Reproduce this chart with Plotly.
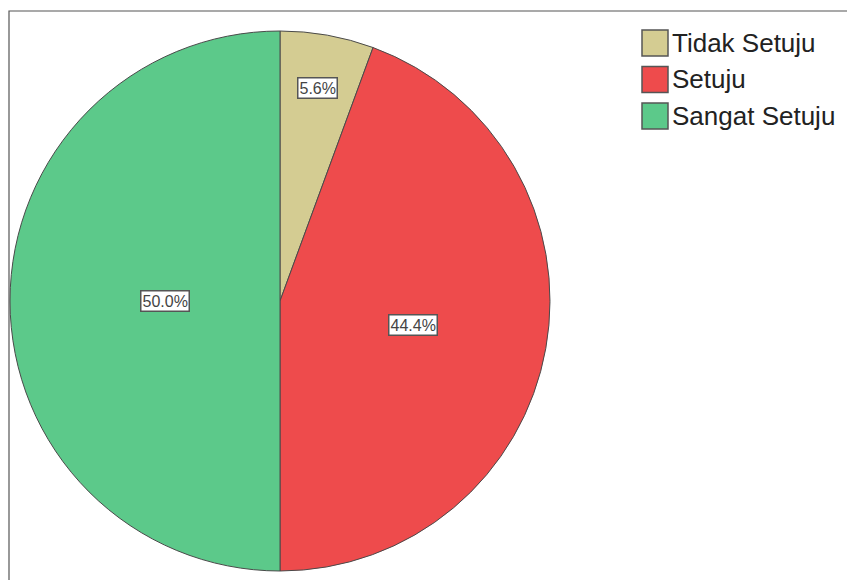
import math
import plotly.graph_objects as go

categories = ["Tidak Setuju", "Setuju", "Sangat Setuju"]
percentages = [5.6, 44.4, 50.0]
slice_colors = ["#D4CC92", "#EE4B4C", "#5CC98A"]
label_radius_frac = [0.80, 0.50, 0.426]  # style: where SPSS put each label box

W, H = 847, 580
cx, cy, R = 280, 301, 270  # pixel geometry of the pie
FONT = "Liberation Sans, Arial, sans-serif"

fig = go.Figure()
fig.add_trace(go.Pie(
    labels=categories,
    values=percentages,
    sort=False,
    direction="clockwise",
    rotation=0,
    marker=dict(colors=slice_colors, line=dict(color="#4a4a4a", width=1)),
    textinfo="none",
    hoverinfo="label+percent",
    showlegend=False,
    domain=dict(x=[(cx - R) / W, (cx + R) / W], y=[1 - (cy + R) / H, 1 - (cy - R) / H]),
))

# label boxes placed along each slice's mid-angle (derived from the data)
total = sum(percentages)
cum = 0.0
for v, f in zip(percentages, label_radius_frac):
    mid = (cum + v / 2) / total * 2 * math.pi
    cum += v
    px = cx + R * f * math.sin(mid)
    py = cy - R * f * math.cos(mid)
    fig.add_annotation(
        x=px / W, y=1 - py / H, xref="paper", yref="paper",
        xanchor="center", yanchor="middle",
        text=f"{v:.1f}%", showarrow=False,
        font=dict(family=FONT, size=16, color="#444444"),
        bgcolor="white", bordercolor="#555555", borderwidth=1.5, borderpad=1,
    )

# legend drawn as in the SPSS output: large swatches with text
lx, ly0, box, step = 642, 30, 26, 36.5
for i, (cat, col) in enumerate(zip(categories, slice_colors)):
    top = ly0 + i * step
    fig.add_shape(type="rect", xref="paper", yref="paper",
                  x0=lx / W, x1=(lx + box) / W,
                  y0=1 - (top + box) / H, y1=1 - top / H,
                  fillcolor=col, line=dict(color="#555555", width=1.5))
    fig.add_annotation(x=(lx + box + 2) / W, y=1 - (top + box / 2) / H,
                       xref="paper", yref="paper", xanchor="left", yanchor="middle",
                       text=cat, showarrow=False,
                       font=dict(family=FONT, size=26, color="#222222"))

# outer frame (right and bottom edges lie outside the picture)
fig.add_shape(type="rect", xref="paper", yref="paper",
              x0=9 / W, x1=1.02, y0=-0.02, y1=1 - 11 / H,
              line=dict(color="#555555", width=1.2), fillcolor="rgba(0,0,0,0)")

fig.update_layout(
    width=W, height=H,
    margin=dict(l=0, r=0, t=0, b=0),
    paper_bgcolor="white",
    showlegend=False,
)

fig.write_html("out.html")
